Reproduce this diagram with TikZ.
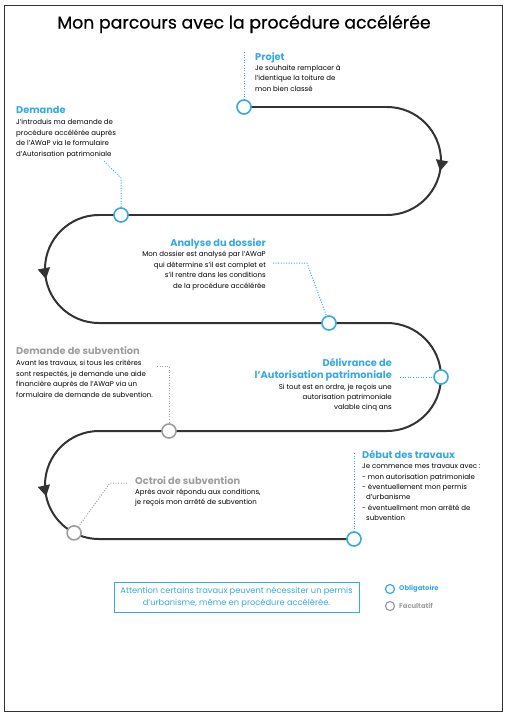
\documentclass[tikz,border=0pt]{standalone}
\usepackage{fontspec}
\setmainfont{Poppins}
\newfontfamily\awtitlefont{Poppins}[FakeBold=0.5]
\usetikzlibrary{decorations.markings,arrows.meta,backgrounds}
\definecolor{awblue}{HTML}{36A9E1}
\definecolor{awgray}{HTML}{9D9D9D}
\definecolor{awdark}{HTML}{333333}
\newcommand\awhead[1]{{\fontsize{9.8}{10}\selectfont\bfseries\color{awblue}#1}}
\newcommand\awheadgray[1]{{\fontsize{9.8}{10}\selectfont\bfseries\color{awgray}#1}}
\begin{document}
\begin{tikzpicture}[x=1pt,y=-1pt,
  road/.style={line width=2pt, draw=awdark},
  arcarrow/.style={postaction={decorate}, decoration={markings, mark=at position #1 with {\arrow[awdark]{Triangle[length=11pt,width=12pt]}}}},
  milestone/.style={circle, draw=awblue, line width=1.6pt, fill=white, minimum size=14pt, inner sep=0pt},
  optional/.style={milestone, draw=awgray},
  txt/.style={align=left, inner sep=0pt, font=\fontsize{7}{10.4}\selectfont, text=black},
  dotblue/.style={draw=awblue, line width=1pt, dash pattern=on 1pt off 1.6pt},
  dotgray/.style={draw=awgray, line width=1pt, dash pattern=on 1pt off 1.6pt},
  legcirc/.style={circle, line width=1.2pt, minimum size=9pt, inner sep=0pt}
]
\useasboundingbox (0,0) rectangle (507,716);
\draw[awdark, line width=1pt] (4,5) rectangle (502,711);

\node (title) at (244,24) {\awtitlefont\fontsize{17.3}{19}\selectfont Mon parcours avec la procédure accélérée};

% milestones
\node[milestone] (projet) at (244,107) {};
\node[milestone] (demande) at (121,215) {};
\node[milestone] (analyse) at (329,323) {};
\node[milestone] (delivrance) at (441,377) {};
\node[optional] (subv) at (169,431) {};
\node[optional] (octroi) at (74.07,532.9) {};
\node[milestone] (debut) at (354,539) {};

% road
\coordinate (r1a) at (387,107);
\coordinate (r1b) at (387,215);
\coordinate (l1a) at (99,215);
\coordinate (l1b) at (99,323);
\coordinate (r2a) at (387,323);
\coordinate (l2a) at (99,431);
\begin{pgfonlayer}{background}
\draw[road] (projet.center) -- (r1a);
\draw[road, arcarrow=0.56] (r1a) arc[start angle=-90, end angle=90, radius=54];
\draw[road] (r1b) -- (demande.center) -- (l1a);
\draw[road, arcarrow=0.56] (l1a) arc[start angle=270, end angle=90, radius=54];
\draw[road] (l1b) -- (analyse.center) -- (r2a) arc[start angle=-90, end angle=0, radius=54];
\draw[road] (delivrance.center) arc[start angle=0, end angle=90, radius=54] -- (subv.center) -- (l2a);
\draw[road, arcarrow=0.67] (l2a) arc[start angle=270, end angle=117.5, radius=54];
\draw[road] (octroi.center) arc[start angle=117.5, end angle=90, radius=54] -- (debut.center);
\end{pgfonlayer}

% texts
\node[txt, anchor=north west] (projettxt) at (255,52) {\awhead{Projet}\\Je souhaite remplacer à\\l’identique la toiture de\\mon bien classé};
\node[txt, anchor=north west] (demandetxt) at (16,106) {\awhead{Demande}\\[1pt]J’introduis ma demande de\\procédure accélérée auprès\\de l’AWaP via le formulaire\\d’Autorisation patrimoniale};
\node[txt, anchor=north east, align=right] (analysetxt) at (266,238) {\awhead{Analyse du dossier}\\[0.5pt]Mon dossier est analysé par l’AWaP\\qui détermine s’il est complet et\\s’il rentre dans les conditions\\de la procédure accélérée};
\node[txt, anchor=north west] (subvtxt) at (16,346) {\awheadgray{Demande de subvention}\\[1.5pt]Avant les travaux, si tous les critères\\sont respectés, je demande une aide\\financière auprès de l’AWaP via un\\formulaire de demande de subvention.};
\node[txt, anchor=north east, align=right] (delivrancetxt) at (392,358) {\awhead{Délivrance de}\\[1.5pt]\awhead{l’Autorisation patrimoniale}\\[0.5pt]Si tout est en ordre, je reçois une\\autorisation patrimoniale\\valable cinq ans};
\node[txt, anchor=north west] (debuttxt) at (362,450) {\awhead{Début des travaux}\\Je commence mes travaux avec :\\- mon autorisation patrimoniale\\- éventuellement mon permis\\\hspace*{4pt}d’urbanisme\\- éventuellment mon arrêté de\\\hspace*{4pt}subvention};
\node[txt, anchor=north west] (octroitxt) at (135,476) {\awheadgray{Octroi de subvention}\\Après avoir répondu aux conditions,\\je reçois mon arrêté de subvention};

% dotted leaders
\coordinate (pj1) at (244,52);
\draw[dotblue] (pj1) -- (projet);
\coordinate (dm1) at (104,161);
\coordinate (dm2) at (121,178);
\draw[dotblue] (dm1) -- (dm2) -- (demande);
\coordinate (an1) at (273,263);
\coordinate (an2) at (307,263);
\draw[dotblue] (an1) -- (an2) -- (analyse);
\coordinate (sb1) at (157,366);
\coordinate (sb2) at (169,366);
\draw[dotgray] (sb1) -- (sb2) -- (subv);
\coordinate (dl1) at (400,377);
\draw[dotblue] (dl1) -- (delivrance);
\coordinate (db1) at (354,453);
\draw[dotblue] (db1) -- (debut);
\coordinate (oc1) at (127,483);
\coordinate (oc2) at (110,483);
\draw[dotgray] (oc1) -- (oc2) -- (octroi);

% note box
\node[draw=awblue, line width=1pt, minimum width=245pt, minimum height=30pt, inner sep=0pt, align=center, text=awblue, font=\fontsize{8.3}{12}\selectfont] (note) at (236.5,597) {Attention certains travaux peuvent nécessiter un permis\\d’urbanisme, même en procédure accélérée.};

% legend
\node[legcirc, draw=awblue] (legob) at (390,589) {};
\node[anchor=west, inner sep=0pt, text=awblue, font=\fontsize{6.8}{7}\selectfont\bfseries] (legobtxt) at (399,589) {Obligatoire};
\node[legcirc, draw=awgray] (legfa) at (390,606) {};
\node[anchor=west, inner sep=0pt, text=awgray, font=\fontsize{6.8}{7}\selectfont\bfseries] (legfatxt) at (399,606) {Facultatif};
\end{tikzpicture}
\end{document}
